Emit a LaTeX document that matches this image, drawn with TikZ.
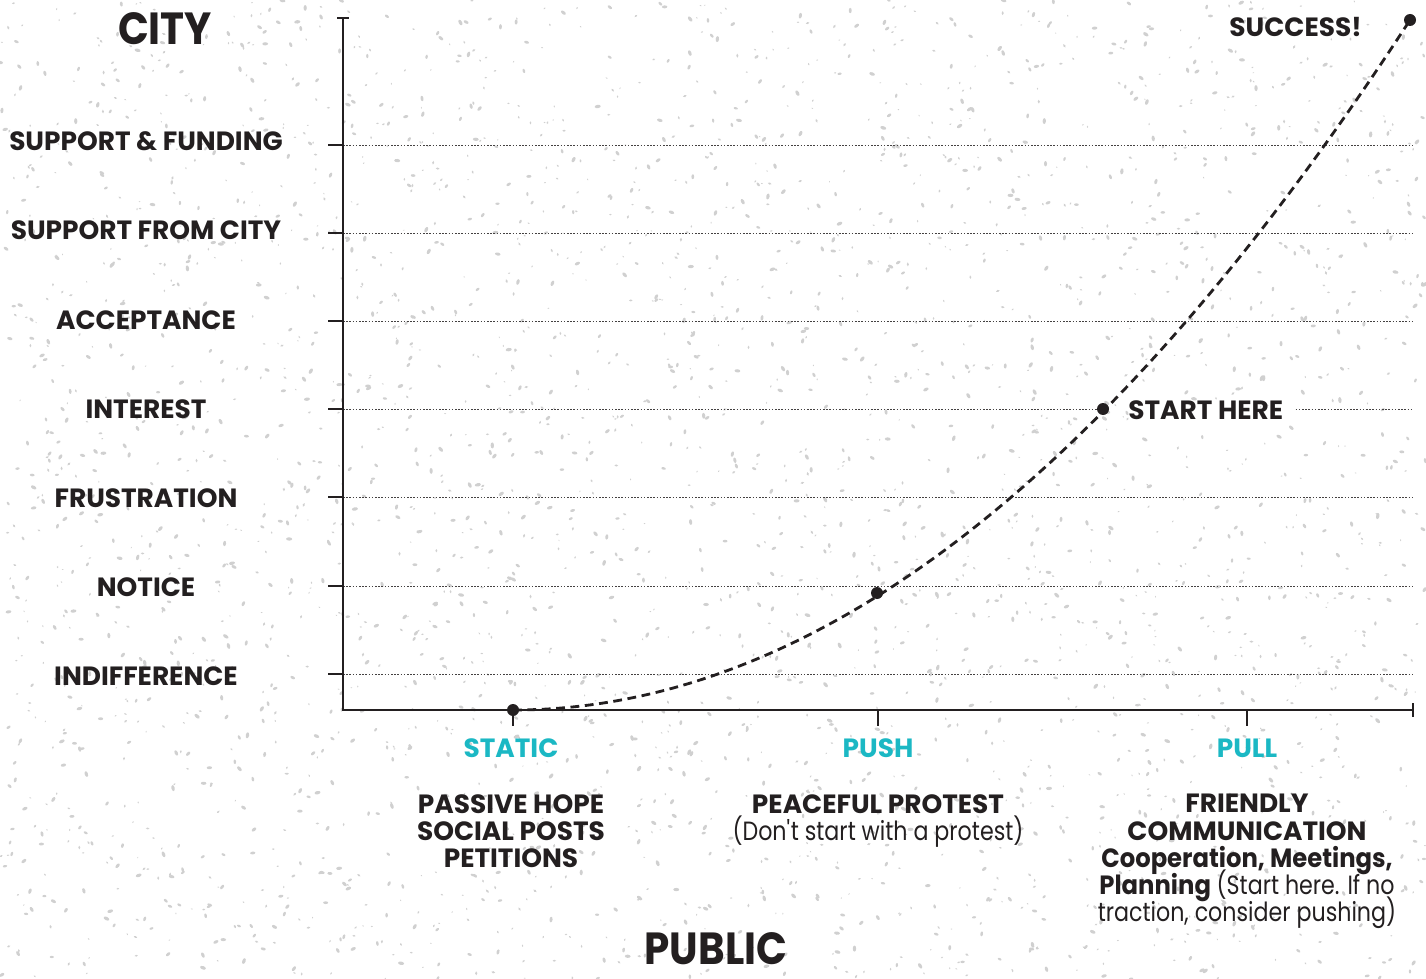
\documentclass[tikz,border=0pt]{standalone}
\usepackage{fontspec}
\setmainfont{Poppins}
\newfontfamily\narrowA[FakeStretch=0.92]{Poppins}
\newfontfamily\narrowB[FakeStretch=0.84]{Poppins}
\newfontfamily\narrowC[FakeStretch=0.9]{Poppins}
\newcommand\mytightlines{\lineskiplimit=-20pt\relax}
\definecolor{ink}{HTML}{231F20}
\definecolor{tealc}{HTML}{1BB8C4}
\definecolor{speck}{HTML}{D0D0D0}
\begin{document}
\begin{tikzpicture}[x=0.5pt,y=-0.5pt,
  axisline/.style={draw=ink,line width=1.2pt,line cap=butt},
  tickline/.style={draw=ink,line width=1.2pt},
  gridline/.style={draw=ink!85,line width=0.45pt,dash pattern=on 0.8pt off 0.8pt},
  curveline/.style={draw=ink,line width=1.4pt,dash pattern=on 4.4pt off 2.8pt},
  dotmark/.style={circle,fill=ink,inner sep=0pt,minimum size=6pt},
  lab/.style={font=\bfseries\fontsize{13.2}{14}\selectfont,text=ink,inner sep=0pt},
  big/.style={font=\narrowC\bfseries\fontsize{22.5}{24}\selectfont,text=ink,inner sep=0pt},
  phase/.style={font=\bfseries\fontsize{13.2}{14}\selectfont,text=tealc,inner sep=0pt},
  desc/.style={font=\bfseries\fontsize{13.2}{13.6}\selectfont,execute at begin node=\mytightlines,text=ink,inner sep=0pt,align=center,anchor=north}]
\useasboundingbox (0,0) rectangle (1426,979);
\fill[white] (0,0) rectangle (1426,979);
% speckled paper texture
\pgfmathsetseed{11}
\foreach \i in {1,...,3200}{
  \pgfmathsetmacro\xx{rnd*1426}
  \pgfmathsetmacro\yy{rnd*979}
  \pgfmathsetmacro\rr{0.5+rnd*1.2}
  \pgfmathsetmacro\aa{rnd*180}
  \fill[speck,rotate around={\aa:(\xx,\yy)}] (\xx,\yy) ellipse[x radius=1.8*\rr,y radius=\rr];
}
% coordinates
\coordinate (O) at (343,710);
\coordinate (ytop) at (343,18);
\coordinate (ycapL) at (337,18);
\coordinate (ycapR) at (349,18);
\coordinate (xend) at (1413,710);
\coordinate (xcapT) at (1413,703);
\coordinate (xcapB) at (1413,717);
% grid lines and y ticks
\foreach \n/\yv in {a/145,b/233,c/321,e/497,f/586,g/674}{
  \coordinate (tl\n) at (328,\yv);
  \coordinate (ta\n) at (343,\yv);
  \coordinate (te\n) at (1413,\yv);
  \draw[gridline] (ta\n) -- (te\n);
  \draw[tickline] (tl\n) -- (ta\n);
}
\coordinate (tld) at (328,409);
\coordinate (tad) at (343,409);
\coordinate (ted) at (1413,409);
\draw[tickline] (tld) -- (tad);
% curve points
\coordinate (p0) at (513,710);
\coordinate (p1) at (877,593);
\coordinate (p2) at (1103,409);
\coordinate (p3) at (1410,20);
\node[lab,anchor=base west] (start) at (1128,419) {START HERE};
\draw[gridline] (tad) -- (p2);
\draw[gridline] ([xshift=6pt]start.east |- ted) -- (ted);
% x ticks
\foreach \n/\xv in {s/513,u/878,l/1247}{
  \coordinate (xa\n) at (\xv,710);
  \coordinate (xb\n) at (\xv,726);
  \draw[tickline] (xa\n) -- (xb\n);
}
% axes
\draw[axisline] (ytop) -- (O) -- (xend);
\draw[tickline] (ycapL) -- (ycapR);
\draw[tickline] (xcapT) -- (xcapB);
% curve
\draw[curveline] (p0) .. controls (812,710) and (1111,480) .. (p3);
\foreach \p in {p0,p1,p2,p3}{ \node[dotmark] at (\p) {}; }
% labels
\node[big,anchor=base] (city) at (165,45) {CITY};
\node[big,anchor=base] (public) at (716,964) {PUBLIC};
\node[lab,anchor=base east] (success) at (1362,37) {SUCCESS!};
\node[lab,anchor=base] (l1) at (146,151) {SUPPORT \& FUNDING};
\node[lab,anchor=base] (l2) at (146,240) {SUPPORT FROM CITY};
\node[lab,anchor=base] (l3) at (146,329) {ACCEPTANCE};
\node[lab,anchor=base] (l4) at (146,418) {INTEREST};
\node[lab,anchor=base] (l5) at (146,507) {FRUSTRATION};
\node[lab,anchor=base] (l6) at (146,596) {NOTICE};
\node[lab,anchor=base] (l7) at (146,685) {INDIFFERENCE};
\node[phase,anchor=base] (static) at (511,757) {STATIC};
\node[phase,anchor=base] (push) at (878,757) {PUSH};
\node[phase,anchor=base] (pull) at (1247,757) {PULL};
\node[desc] (d1) at (511,794) {PASSIVE HOPE\\SOCIAL POSTS\\PETITIONS};
\node[desc] (d2) at (878,794) {PEACEFUL PROTEST\\{\narrowB\mdseries (Don\textquotesingle t start with a protest)}};
\node[desc] (d3) at (1247,794) {FRIENDLY\\COMMUNICATION\\{\narrowA\bfseries Cooperation, Meetings,}\\{\narrowA\bfseries Planning} {\narrowB\mdseries (Start here. If no}\\{\narrowB\mdseries traction, consider pushing)}};
\end{tikzpicture}
\end{document}
